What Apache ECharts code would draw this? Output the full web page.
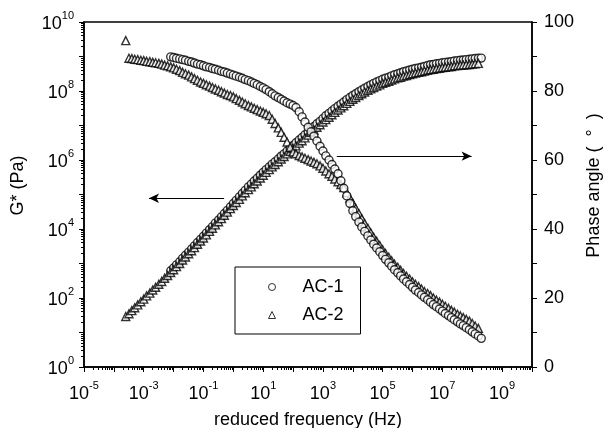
<!DOCTYPE html>
<html>
<head>
<meta charset="utf-8">
<script src="https://cdn.jsdelivr.net/npm/echarts@6/dist/echarts.min.js"></script>
<style>
  html, body { margin: 0; padding: 0; background: #fff; }
  #chart { width: 608px; height: 428px; }
</style>
</head>
<body>
<div id="chart"></div>
<script>
// Reduced frequency (Hz) for each sample
const freqAC1 = [8e-3,
  0.01, 0.0125, 0.016, 0.02, 0.025, 0.032, 0.04, 0.05, 0.063, 0.08,
  0.1, 0.125, 0.16, 0.2, 0.25, 0.32, 0.4, 0.5, 0.63, 0.8,
  1, 1.25, 1.6, 2, 2.5, 3.2, 4, 5, 6.3, 8,
  10, 12.5, 16, 20, 25, 32, 40, 50, 63, 80,
  100, 125, 160, 200, 250, 320, 400, 500, 630, 800,
  1e3, 1.25e3, 1.6e3, 2e3, 2.5e3, 3.2e3, 4e3, 5e3, 6.3e3, 8e3,
  1e4, 1.25e4, 1.6e4, 2e4, 2.5e4, 3.2e4, 4e4, 5e4, 6.3e4, 8e4,
  1e5, 1.25e5, 1.6e5, 2e5, 2.5e5, 3.2e5, 4e5, 5e5, 6.3e5, 8e5,
  1e6, 1.25e6, 1.6e6, 2e6, 2.5e6, 3.2e6, 4e6, 5e6, 6.3e6, 8e6,
  1e7, 1.25e7, 1.6e7, 2e7, 2.5e7, 3.2e7, 4e7, 5e7, 6.3e7, 8e7,
  1e8, 1.25e8, 1.6e8, 2e8];

const freqAC2 = [2.5e-4, 3.2e-4, 4e-4, 5e-4, 6.3e-4, 8e-4,
  1e-3, 1.25e-3, 1.6e-3, 2e-3, 2.5e-3, 3.2e-3, 4e-3, 5e-3, 6.3e-3, 8e-3,
  0.01, 0.0125, 0.016, 0.02, 0.025, 0.032, 0.04, 0.05, 0.063, 0.08,
  0.1, 0.125, 0.16, 0.2, 0.25, 0.32, 0.4, 0.5, 0.63, 0.8,
  1, 1.25, 1.6, 2, 2.5, 3.2, 4, 5, 6.3, 8,
  10, 12.5, 16, 20, 25, 32, 40, 50, 63, 80,
  100, 125, 160, 200, 250, 320, 400, 500, 630, 800,
  1e3, 1.25e3, 1.6e3, 2e3, 2.5e3, 3.2e3, 4e3, 5e3, 6.3e3, 8e3,
  1e4, 1.25e4, 1.6e4, 2e4, 2.5e4, 3.2e4, 4e4, 5e4, 6.3e4, 8e4,
  1e5, 1.25e5, 1.6e5, 2e5, 2.5e5, 3.2e5, 4e5, 5e5, 6.3e5, 8e5,
  1e6, 1.25e6, 1.6e6, 2e6, 2.5e6, 3.2e6, 4e6, 5e6, 6.3e6, 8e6,
  1e7, 1.25e7, 1.6e7, 2e7, 2.5e7, 3.2e7, 4e7, 5e7, 6.3e7, 8e7,
  1e8, 1.25e8, 1.6e8];

// Complex modulus G* (Pa)
const gAC1 = [6.17e2,
  7.41e2, 9.12e2, 1.12e3, 1.41e3, 1.74e3, 2.14e3, 2.63e3, 3.24e3, 4.07e3, 5.01e3,
  6.17e3, 7.59e3, 9.55e3, 1.17e4, 1.48e4, 1.82e4, 2.24e4, 2.82e4, 3.47e4, 4.37e4,
  5.50e4, 6.76e4, 8.51e4, 1.07e5, 1.32e5, 1.66e5, 2.00e5, 2.45e5, 2.95e5, 3.63e5,
  4.37e5, 5.25e5, 6.31e5, 7.59e5, 8.91e5, 1.07e6, 1.29e6, 1.51e6, 1.82e6, 2.14e6,
  2.63e6, 3.16e6, 3.80e6, 4.47e6, 5.37e6, 6.46e6, 7.76e6, 9.33e6, 1.12e7, 1.32e7,
  1.58e7, 1.91e7, 2.24e7, 2.63e7, 3.09e7, 3.63e7, 4.17e7, 4.79e7, 5.62e7, 6.46e7,
  7.41e7, 8.32e7, 9.55e7, 1.07e8, 1.20e8, 1.35e8, 1.51e8, 1.66e8, 1.82e8, 2.00e8,
  2.19e8, 2.34e8, 2.51e8, 2.75e8, 2.95e8, 3.16e8, 3.39e8, 3.63e8, 3.80e8, 4.07e8,
  4.27e8, 4.47e8, 4.68e8, 4.90e8, 5.13e8, 5.50e8, 5.75e8, 5.89e8, 6.17e8, 6.31e8,
  6.61e8, 6.76e8, 6.92e8, 7.08e8, 7.41e8, 7.59e8, 7.76e8, 7.94e8, 8.13e8, 8.32e8,
  8.51e8, 8.71e8, 8.91e8, 9.0e8];

const gAC2 = [2.9e1, 3.5e1, 4.3e1, 5.2e1, 6.3e1, 7.8e1,
  9.3e1, 1.15e2, 1.38e2, 1.70e2, 2.04e2, 2.51e2, 3.02e2, 3.72e2, 4.47e2, 5.50e2,
  6.61e2, 8.13e2, 1.00e3, 1.26e3, 1.55e3, 1.91e3, 2.34e3, 2.88e3, 3.63e3, 4.47e3,
  5.50e3, 6.76e3, 8.51e3, 1.05e4, 1.32e4, 1.62e4, 2.00e4, 2.51e4, 3.09e4, 3.89e4,
  4.79e4, 5.89e4, 7.24e4, 9.12e4, 1.12e5, 1.38e5, 1.66e5, 2.04e5, 2.45e5, 3.02e5,
  3.63e5, 4.37e5, 5.25e5, 6.31e5, 7.41e5, 8.91e5, 1.07e6, 1.26e6, 1.51e6, 1.78e6,
  2.14e6, 2.57e6, 3.09e6, 3.63e6, 4.37e6, 5.25e6, 6.31e6, 7.41e6, 8.91e6, 1.05e7,
  1.26e7, 1.48e7, 1.74e7, 2.04e7, 2.40e7, 2.82e7, 3.24e7, 3.72e7, 4.37e7, 5.01e7,
  5.75e7, 6.46e7, 7.41e7, 8.32e7, 9.33e7, 1.05e8, 1.15e8, 1.26e8, 1.38e8, 1.51e8,
  1.66e8, 1.78e8, 1.91e8, 2.09e8, 2.24e8, 2.40e8, 2.51e8, 2.69e8, 2.82e8, 3.02e8,
  3.16e8, 3.31e8, 3.47e8, 3.63e8, 3.80e8, 3.98e8, 4.17e8, 4.27e8, 4.47e8, 4.57e8,
  4.79e8, 4.90e8, 5.01e8, 5.13e8, 5.37e8, 5.50e8, 5.62e8, 5.68e8, 5.75e8, 5.89e8,
  6.03e8, 6.17e8, 6.31e8];

// Phase angle (degrees)
const phaseAC1 = [89.9,
  89.7, 89.5, 89.3, 89.1, 88.9, 88.6, 88.4, 88.1, 87.8, 87.6,
  87.3, 87.0, 86.8, 86.5, 86.3, 86.0, 85.7, 85.5, 85.2, 84.9,
  84.6, 84.3, 84.0, 83.7, 83.3, 83.0, 82.6, 82.2, 81.8, 81.3,
  80.9, 80.4, 79.8, 79.2, 78.6, 78.1, 77.6, 77.1, 76.6, 76.2,
  75.8, 75.2, 74.0, 72.5, 71.0, 69.5, 68.2, 66.9, 65.5, 64.0,
  62.6, 61.2, 60.0, 58.7, 57.4, 56.0, 54.0, 51.8, 49.6, 47.4,
  45.3, 43.6, 42.0, 40.6, 39.3, 38.0, 36.8, 35.6, 34.5, 33.4,
  32.3, 31.2, 30.2, 29.2, 28.2, 27.3, 26.4, 25.5, 24.7, 23.9,
  23.1, 22.3, 21.6, 20.9, 20.2, 19.5, 18.8, 18.1, 17.5, 16.8,
  16.2, 15.5, 14.9, 14.3, 13.7, 13.1, 12.5, 12.0, 11.4, 10.8,
  10.2, 9.6, 9.0, 8.3];

const phaseAC2 = [94.6, 89.5, 89.4, 89.2, 89.1, 88.9,
  88.8, 88.6, 88.5, 88.3, 88.2, 88.0, 87.8, 87.5, 87.3, 87.0,
  86.7, 86.3, 85.9, 85.4, 85.0, 84.6, 84.1, 83.6, 83.1, 82.6,
  82.2, 81.8, 81.4, 81.0, 80.6, 80.2, 79.8, 79.4, 79.0, 78.7,
  78.3, 77.8, 77.3, 76.8, 76.3, 75.8, 75.4, 75.0, 74.6, 74.2,
  73.8, 73.4, 72.9, 71.8, 70.6, 69.3, 68.0, 66.6, 65.2, 63.7,
  62.3, 61.8, 61.3, 60.9, 60.5, 60.1, 59.7, 59.3, 58.9, 58.3,
  57.6, 56.8, 56.0, 55.3, 54.5, 53.7, 52.9, 52.0, 50.5, 49.0,
  47.5, 46.0, 44.5, 43.0, 41.6, 40.2, 38.9, 37.6, 36.4, 35.2,
  34.0, 32.9, 31.8, 30.8, 29.8, 28.9, 28.0, 27.1, 26.3, 25.5,
  24.7, 24.0, 23.3, 22.6, 21.9, 21.3, 20.7, 20.0, 19.4, 18.8,
  18.2, 17.6, 17.0, 16.4, 15.9, 15.3, 14.8, 14.3, 13.8, 13.3,
  12.6, 11.9, 11.2];

// Axis ranges and tick positions
const xRange = [1e-5, 1e10];
const gRange = [1, 1e10];
const phaseRange = [0, 100];
const phaseTickStep = 10;
const phaseLabelStep = 20;
const xDecades = [1e-5, 1e-4, 1e-3, 1e-2, 1e-1, 1e0, 1e1, 1e2, 1e3, 1e4, 1e5, 1e6, 1e7, 1e8, 1e9, 1e10];
const xLabelValues = [1e-5, 1e-3, 1e-1, 1e1, 1e3, 1e5, 1e7, 1e9];
const gDecades = [1e0, 1e1, 1e2, 1e3, 1e4, 1e5, 1e6, 1e7, 1e8, 1e9, 1e10];
const gLabelValues = [1e0, 1e2, 1e4, 1e6, 1e8, 1e10];
const minorSteps = [2, 3, 4, 5, 6, 7, 8, 9];

// Arrows pointing each family of curves to its own axis
const arrowToModulus = [[0.49, 7.8e4], [1.5e-3, 7.8e4]];
const arrowToPhase = [[2.9e3, 61.1], [9.5e7, 61.1]];

const FONT = 'Arial, "Liberation Sans", sans-serif';
const BLACK = '#000';

const pairs = (xs, ys) => xs.map((x, i) => [x, ys[i]]);
const expOf = v => Math.round(Math.log10(v));
const powLabel = v => '{b|10}{e|' + expOf(v) + '}';
const minorsOf = decades => decades.slice(0, -1).flatMap(d => minorSteps.map(m => m * d));

const powRich = {
  b: { fontSize: 18, fontFamily: FONT, color: BLACK, padding: [5, 0, 0, 0], verticalAlign: 'bottom' },
  e: { fontSize: 11, fontFamily: FONT, color: BLACK, verticalAlign: 'top' }
};

const markerStyle = { color: '#fff', borderColor: BLACK, borderWidth: 1.4 };
const MARK = 8;

const arrowLine = (pts) => ({
  silent: true,
  symbol: ['none', 'arrow'],
  symbolSize: [7, 10],
  label: { show: false },
  lineStyle: { color: BLACK, width: 1, type: 'solid' },
  emphasis: { disabled: true },
  data: [[{ coord: pts[0] }, { coord: pts[1] }]]
});

const tickLine = { color: BLACK, width: 1 };

// Rotated axis titles sit a little above the plot's vertical centre
const sideTitleStyle = { fontSize: 18, fontFamily: FONT, color: BLACK, padding: [0, 0, 0, 18] };

// Minor (2..9) ticks live on a bare companion axis sharing the same scale
const minorAxis = (extra) => Object.assign({
  type: 'log', logBase: 10,
  axisLine: { show: false },
  axisLabel: { show: false },
  splitLine: { show: false }
}, extra);

const chart = echarts.init(document.getElementById('chart'), null, { renderer: 'canvas' });

chart.setOption({
  animation: false,
  backgroundColor: '#fff',
  textStyle: { fontFamily: FONT, color: BLACK },
  grid: {
    left: 84, right: 76, top: 22, bottom: 61,
    outerBoundsMode: 'none', containLabel: false,
    show: true, borderColor: BLACK, borderWidth: 1.5, backgroundColor: 'transparent'
  },
  legend: {
    data: [{ name: 'AC-1', icon: 'circle' }, { name: 'AC-2', icon: 'triangle' }],
    orient: 'vertical',
    left: 235,
    top: 267,
    itemWidth: 7,
    itemHeight: 7,
    itemGap: 10,
    padding: [11, 17, 10, 33],
    borderColor: BLACK,
    borderWidth: 1,
    selectedMode: false,
    itemStyle: { color: '#fff', borderColor: BLACK, borderWidth: 1 },
    formatter: '{t|{name}}',
    textStyle: {
      fontSize: 18, fontFamily: FONT, color: BLACK,
      rich: { t: { fontSize: 18, fontFamily: FONT, color: BLACK, padding: [0, 0, 0, 22] } }
    }
  },
  xAxis: [
    {
      type: 'log', logBase: 10,
      min: xRange[0], max: xRange[1],
      axisLine: { show: true, lineStyle: { color: BLACK, width: 1.5 } },
      axisTick: { show: true, inside: false, length: 5, lineStyle: tickLine, customValues: xDecades },
      splitLine: { show: false },
      axisLabel: { margin: 13, customValues: xLabelValues, formatter: powLabel, rich: powRich },
      name: 'reduced frequency (Hz)',
      nameLocation: 'middle',
      nameGap: 44,
      nameTextStyle: { fontSize: 18, fontFamily: FONT, color: BLACK }
    },
    minorAxis({
      position: 'bottom', min: xRange[0], max: xRange[1],
      axisTick: { show: true, inside: false, length: 3, lineStyle: tickLine, customValues: minorsOf(xDecades) }
    })
  ],
  yAxis: [
    {
      type: 'log', logBase: 10, position: 'left',
      min: gRange[0], max: gRange[1],
      axisLine: { show: true, lineStyle: { color: BLACK, width: 1.5 } },
      axisTick: { show: true, inside: false, length: 5, lineStyle: tickLine, customValues: gDecades },
      splitLine: { show: false },
      axisLabel: { margin: 10, customValues: gLabelValues, formatter: powLabel, rich: powRich },
      name: 'G* (Pa)',
      nameLocation: 'middle',
      nameRotate: 90,
      nameGap: 57,
      nameTextStyle: sideTitleStyle
    },
    {
      type: 'value', position: 'right',
      min: phaseRange[0], max: phaseRange[1], interval: phaseTickStep,
      axisLine: { show: true, lineStyle: { color: BLACK, width: 1.5 } },
      axisTick: { show: true, inside: false, length: 5, lineStyle: tickLine },
      splitLine: { show: false },
      axisLabel: {
        margin: 12, fontSize: 18, fontFamily: FONT, color: BLACK,
        formatter: v => (v % phaseLabelStep === 0 ? String(v) : '')
      },
      name: 'Phase angle (  °  )',
      nameLocation: 'middle',
      nameRotate: 90,
      nameGap: 53,
      nameTextStyle: sideTitleStyle
    },
    minorAxis({
      position: 'left', min: gRange[0], max: gRange[1],
      axisTick: { show: true, inside: false, length: 3, lineStyle: tickLine, customValues: minorsOf(gDecades) }
    })
  ],
  series: [
    {
      name: 'AC-1', type: 'scatter', xAxisIndex: 0, yAxisIndex: 0,
      symbol: 'circle', symbolSize: MARK, itemStyle: markerStyle,
      emphasis: { disabled: true },
      data: pairs(freqAC1, gAC1)
    },
    {
      name: 'AC-2', type: 'scatter', xAxisIndex: 0, yAxisIndex: 0,
      symbol: 'triangle', symbolSize: MARK, itemStyle: markerStyle,
      emphasis: { disabled: true },
      data: pairs(freqAC2, gAC2),
      markLine: arrowLine(arrowToModulus)
    },
    {
      name: 'AC-2', type: 'scatter', xAxisIndex: 0, yAxisIndex: 1,
      symbol: 'triangle', symbolSize: MARK, itemStyle: markerStyle,
      emphasis: { disabled: true },
      data: pairs(freqAC2, phaseAC2),
      markLine: arrowLine(arrowToPhase)
    },
    {
      name: 'AC-1', type: 'scatter', xAxisIndex: 0, yAxisIndex: 1,
      symbol: 'circle', symbolSize: MARK, itemStyle: markerStyle,
      emphasis: { disabled: true },
      data: pairs(freqAC1, phaseAC1)
    }
  ]
});
</script>
</body>
</html>
